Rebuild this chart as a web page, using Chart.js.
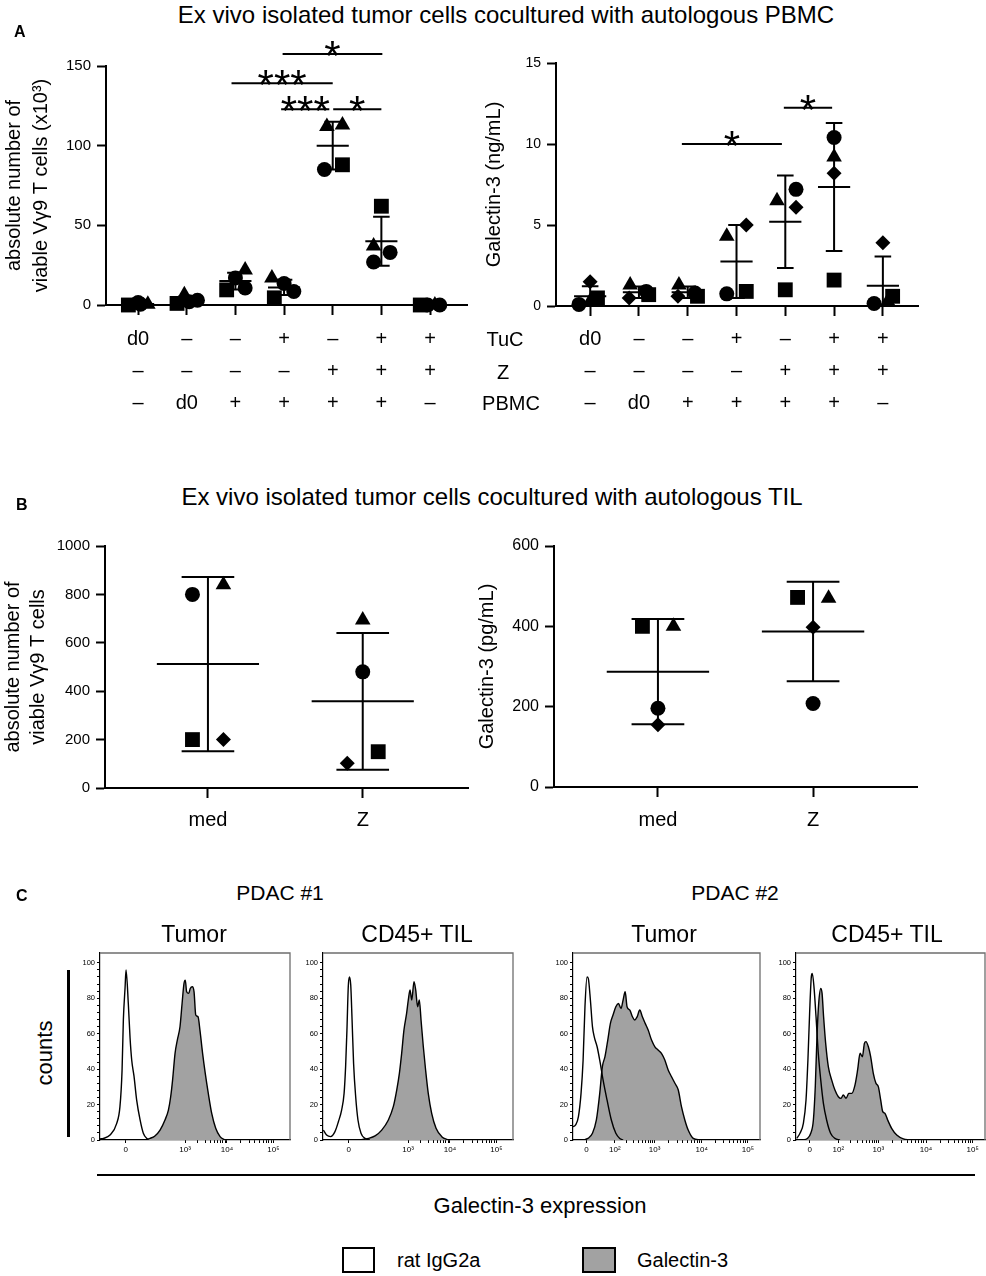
<!DOCTYPE html>
<html>
<head>
<meta charset="utf-8">
<script src="https://cdn.jsdelivr.net/npm/chart.js@4.4.1/dist/chart.umd.min.js"></script>
<style>
  body { margin: 0; background: #fff; }
  #fig { position: relative; width: 986px; height: 1276px; overflow: hidden; background: #fff;
         font-family: "Liberation Sans", Arial, Helvetica, sans-serif; color: #000; }
  .box { position: absolute; }
  .t { position: absolute; white-space: nowrap; }
</style>
</head>
<body>
<div id="fig"></div>
<script>
// ---- Panel A: condition rows under each group ----
const rowTuC  = ['d0', '–', '–', '+', '–', '+', '+'];
const rowZ    = ['–', '–', '–', '–', '+', '+', '+'];
const rowPBMC = ['–', 'd0', '+', '+', '+', '+', '–'];

// A left: absolute number of viable Vγ9 T cells (x10^3), one array per donor symbol
const tcCircle   = [1.5, 3, 10.7, 13.5, 85, 27, 0];
const tcSquare   = [0, 1, 9.5, 4.5, 88, 62, 0];
const tcTriangle = [0.5, 6.5, 22, 17, 112, 37, 0];
const tcFourth   = [0.5, 2, 17, 8.5, 113, 33, 0];
const tcMean     = [0.6, 3.1, 15, 11, 100, 40, 0];
const tcSD       = [0.6, 2.4, 5.2, 4.8, 15, 15.4, 0];

// A right: Galectin-3 (ng/mL)
const galCircle   = [0.1, 0.9, 0.8, 0.75, 7.2, 10.4, 0.15];
const galSquare   = [0.5, 0.7, 0.6, 0.9, 1.0, 1.6, 0.6];
const galTriangle = [0.3, 1.3, 1.3, 4.3, 6.5, 9.2, 0.3];
const galDiamond  = [1.5, 0.5, 0.6, 5.0, 6.1, 8.2, 3.9];
const galMean     = [0.6, 0.85, 0.85, 2.75, 5.2, 7.35, 1.25];
const galSD       = [0.62, 0.35, 0.35, 2.25, 2.85, 3.95, 1.8];

// ---- Panel B: TIL cocultures ----
const tilGroups = ['med', 'Z'];
const tilCircle   = [800, 480];
const tilTriangle = [840, 694];
const tilSquare   = [200, 150];
const tilDiamond  = [200, 102];
const tilMean     = [512, 358];
const tilSD       = [360, 283];

const tgCircle   = [196, 208];
const tgTriangle = [400, 470];
const tgSquare   = [400, 472];
const tgDiamond  = [155, 398];
const tgMean     = [287, 387];
const tgSD       = [131, 124];

// ---- Panel C: flow histograms (x = display channel 0..1000, y = % of max) ----
const pdac1TickPos = [135, 448, 668, 913];
const pdac1TickLab = ['0', '10³', '10⁴', '10⁵'];
const pdac2TickPos = [72, 224, 436, 688, 935];
const pdac2TickLab = ['0', '10²', '10³', '10⁴', '10⁵'];

const h1IsoX = [0, 18, 53, 88, 105, 116, 123, 132, 137, 149, 158, 167, 179, 193, 211, 228, 254];
const h1IsoY = [0.6, 0.9, 2.8, 9.4, 18.8, 39, 68, 86, 96, 77, 58, 45, 36, 22.5, 11.3, 3.8, 0];
const h1GalX = [237, 263, 289, 316, 342, 360, 372, 382, 395, 407, 421, 432, 442, 449, 456, 467, 475, 486, 495, 504, 516, 526, 540, 554, 570, 588, 609, 632, 658];
const h1GalY = [0, 0.9, 2.3, 5.6, 11.3, 16.9, 24.4, 33.8, 48.9, 56.4, 63.9, 77, 88.3, 90.2, 83.6, 82.7, 85.5, 86.5, 83.6, 70.5, 69.5, 62, 48.9, 37.6, 26.3, 15, 6.6, 1.9, 0];

const h2IsoX = [2, 19, 40, 63, 81, 98, 111, 119, 126, 133, 139, 146, 153, 161, 172, 184, 200, 221, 247];
const h2IsoY = [5.6, 2.8, 1.9, 4.7, 10.3, 16.9, 26.3, 41.4, 62, 86.5, 92, 87.4, 67.7, 43.2, 24.4, 11.3, 3.8, 0.9, 0];
const h2GalX = [195, 239, 274, 309, 344, 370, 388, 402, 414, 426, 440, 449, 458, 467, 479, 488, 498, 507, 516, 528, 540, 554, 572, 595, 625, 660];
const h2GalY = [0, 0.9, 2.3, 5.6, 11.3, 18.8, 28.2, 37.6, 48.9, 62, 71.4, 79, 84.6, 79, 89.3, 84.6, 75.2, 79, 67.7, 52.6, 39.5, 26.3, 15, 6.6, 1.9, 0];

const h3IsoX = [0, 14, 29, 43, 54, 64, 75, 82, 93, 104, 114, 129, 143, 161, 182, 205, 229, 250, 268];
const h3IsoY = [7.5, 8.5, 13.2, 26.3, 45, 75.2, 92, 91, 79, 64, 58, 52.6, 45, 33.8, 22.6, 11.3, 3.8, 0.9, 0];
const h3GalX = [54, 80, 104, 125, 143, 157, 171, 186, 200, 214, 229, 243, 257, 268, 279, 289, 304, 318, 330, 343, 357, 371, 386, 402, 420, 438, 455, 473, 491, 509, 527, 545, 563, 580, 598, 616, 643, 679];
const h3GalY = [0, 0.9, 3.8, 11.3, 26.3, 41.4, 47, 56.4, 65.8, 70.5, 75.2, 77, 74.2, 79, 83.6, 75.2, 73.3, 69.5, 67.7, 69.5, 73.3, 69.5, 65.8, 62, 56.4, 52.6, 50.8, 48.9, 45.1, 39.5, 35.7, 32, 28.2, 18.8, 11.3, 5.6, 0.9, 0];

const h4IsoX = [4, 21, 39, 53, 63, 72, 81, 86, 95, 106, 118, 131, 145, 162, 183, 206, 233];
const h4IsoY = [0.9, 3.8, 9.4, 22.6, 45, 71.4, 92, 94, 86.5, 69.5, 48.9, 33.8, 20.7, 11.3, 3.8, 0.9, 0];
const h4GalX = [35, 60, 78, 92, 102, 111, 120, 131, 138, 146, 157, 171, 189, 206, 224, 238, 250, 265, 279, 295, 312, 326, 339, 351, 362, 370, 383, 395, 409, 423, 436, 448, 459, 471, 485, 506, 533, 568, 603];
const h4GalY = [0, 0.9, 3.8, 11.3, 30, 58.3, 77, 85.5, 82.7, 69.5, 54.5, 41.4, 33.8, 28.2, 24.4, 23.5, 25.4, 23.5, 26.3, 26.3, 31, 39.5, 48.9, 47, 54.5, 55.5, 52.6, 47, 37.6, 32, 30, 22.6, 16, 15, 11.3, 6.6, 2.8, 0.6, 0];

// ---------------------------------------------------------------
Chart.defaults.font.family = '"Liberation Sans", Arial, Helvetica, sans-serif';
Chart.defaults.color = '#000';
Chart.defaults.animation = false;

const fig = document.getElementById('fig');
const FONT = '"Liberation Sans", Arial, Helvetica, sans-serif';
const RADIUS = { circle: 7.5, rect: 10.5, triangle: 9, rectRot: 7.5 };

function text(str, x, base, size, opt = {}) {
  const d = document.createElement('div');
  d.className = 't';
  d.textContent = str;
  d.style.fontSize = size + 'px';
  d.style.lineHeight = size + 'px';
  d.style.top = (base - 0.8465 * size) + 'px';
  d.style.left = x + 'px';
  if (opt.bold) d.style.fontWeight = 'bold';
  if (!opt.left) d.style.transform = 'translateX(-50%)';
  fig.appendChild(d);
  return d;
}

function rectDiv(l, t, w, h, css) {
  const d = document.createElement('div');
  d.className = 'box';
  Object.assign(d.style, { left: l + 'px', top: t + 'px', width: w + 'px', height: h + 'px', boxSizing: 'border-box' }, css);
  fig.appendChild(d);
  return d;
}

function addCanvas(r) {
  const wrap = rectDiv(r.l, r.t, r.w, r.h, {});
  const c = document.createElement('canvas');
  c.width = r.w; c.height = r.h;
  c.style.width = r.w + 'px'; c.style.height = r.h + 'px';
  wrap.appendChild(c);
  return c;
}

// significance bars drawn with the chart's own scales
const bracketPlugin = {
  id: 'brackets',
  afterDatasetsDraw(chart, args, opts) {
    const { ctx, scales: { x, y } } = chart;
    (opts.list || []).forEach(b => {
      const x1 = x.getPixelForValue(b.from), x2 = x.getPixelForValue(b.to), yy = y.getPixelForValue(b.y);
      ctx.save();
      ctx.strokeStyle = '#000'; ctx.lineWidth = 2;
      ctx.beginPath(); ctx.moveTo(x1, yy); ctx.lineTo(x2, yy); ctx.stroke();
      ctx.fillStyle = '#000';
      ctx.font = '42px ' + FONT;
      ctx.textAlign = 'center'; ctx.textBaseline = 'alphabetic';
      ctx.fillText(b.label, (x1 + x2) / 2, yy + 16);
      ctx.restore();
    });
  }
};

function dotChart(o) {
  const c = addCanvas(o.rect);
  const yW = o.area.l - o.rect.l, xH = o.rect.t + o.rect.h - o.area.b;
  const padTop = o.area.t - o.rect.t, padRight = o.rect.l + o.rect.w - o.area.r;
  const n = o.mean.length;

  // mean line, SD stem and caps for each group
  const bars = [];
  for (let i = 0; i < n; i++) {
    const m = o.mean[i], s = o.sd[i];
    bars.push({ x: i - 0.33, y: m }, { x: i + 0.33, y: m }, { x: i, y: null });
    bars.push({ x: i, y: m - s }, { x: i, y: m + s }, { x: i, y: null });
    bars.push({ x: i - 0.17, y: m + s }, { x: i + 0.17, y: m + s }, { x: i, y: null });
    bars.push({ x: i - 0.17, y: m - s }, { x: i + 0.17, y: m - s }, { x: i, y: null });
  }
  const datasets = [{
    type: 'line', data: bars, borderColor: '#000', borderWidth: 2,
    pointRadius: 0, spanGaps: false, fill: false, showLine: true
  }];
  o.series.forEach(s => {
    const styles = s.values.map((_, i) => Array.isArray(s.style) ? s.style[i] : s.style);
    datasets.push({
      data: s.values.map((v, i) => ({ x: i + s.jitter[i], y: v })),
      pointStyle: styles,
      pointRadius: styles.map(st => RADIUS[st]),
      pointBackgroundColor: '#000', pointBorderWidth: 0, backgroundColor: '#000',
      clip: false
    });
  });

  return new Chart(c, {
    type: 'scatter',
    data: { datasets },
    plugins: [bracketPlugin],
    options: {
      responsive: false, events: [],
      layout: { padding: { top: padTop, right: padRight, left: 0, bottom: 0 } },
      plugins: { legend: { display: false }, tooltip: { enabled: false }, brackets: { list: o.brackets || [] } },
      scales: {
        x: {
          type: 'linear', min: o.xMin, max: o.xMax,
          afterBuildTicks: s => { s.ticks = o.mean.map((_, i) => ({ value: i })); },
          afterFit: s => { s.height = xH; },
          ticks: {
            callback: (v, i) => o.xLabel(i), autoSkip: false, maxRotation: 0,
            font: { size: 20, lineHeight: o.xLH || 1.2 }, color: '#000', padding: o.xPad
          },
          grid: { drawOnChartArea: false, drawTicks: true, tickLength: 10, tickWidth: 2, tickColor: '#000' },
          border: { color: '#000', width: 2 }
        },
        y: {
          min: 0, max: o.yMax,
          afterFit: s => { s.width = yW; },
          ticks: { stepSize: o.yStep, font: { size: o.yTickSize || 15 }, color: '#000', padding: 6,
                   callback: v => String(v) },
          grid: { drawOnChartArea: false, drawTicks: true, tickLength: 9, tickWidth: 2, tickColor: '#000' },
          border: { color: '#000', width: 2 },
          title: {
            display: true, text: o.yTitle, color: '#000',
            font: { size: 20, lineHeight: o.yLH }, padding: { top: o.yTitlePad, bottom: 0 }
          }
        }
      }
    }
  });
}

// ---- Panel A ----
const rowsA = i => [rowTuC[i], rowZ[i], rowPBMC[i]];

dotChart({
  rect: { l: 0, t: 30, w: 480, h: 390 }, area: { l: 106, t: 66, r: 467, b: 305 },
  xMin: -0.66, xMax: 6.76, yMax: 150, yStep: 50,
  xLabel: rowsA, xLH: 1.6, xPad: 8,
  yTitle: ['absolute number of', 'viable Vγ9 T cells (x10³)'], yLH: 1.35, yTitlePad: 0.5,
  mean: tcMean, sd: tcSD,
  series: [
    { values: tcCircle, style: 'circle', jitter: [0.0, 0.22, 0.2, 0.0, -0.17, -0.16, -0.05] },
    { values: tcSquare, style: 'rect', jitter: [-0.2, -0.2, -0.18, -0.2, 0.2, 0.0, -0.2] },
    { values: tcTriangle, style: 'triangle', jitter: [0.2, -0.05, 0.2, -0.25, -0.12, -0.16, 0.1] },
    { values: tcFourth, style: ['circle', 'circle', 'circle', 'circle', 'triangle', 'circle', 'circle'],
      jitter: [0.05, 0.05, 0.0, 0.2, 0.2, 0.18, 0.2] }
  ],
  brackets: [
    { from: 2.97, to: 5.02, y: 157.5, label: '*' },
    { from: 1.92, to: 4.0, y: 139.1, label: '***' },
    { from: 2.94, to: 3.93, y: 122.8, label: '***' },
    { from: 4.01, to: 5.0, y: 122.8, label: '*' }
  ]
});

dotChart({
  rect: { l: 470, t: 30, w: 516, h: 390 }, area: { l: 556, t: 63, r: 918, b: 306 },
  xMin: -0.7, xMax: 6.72, yMax: 15, yStep: 5, yTickSize: 14,
  xLabel: rowsA, xLH: 1.6, xPad: 7,
  yTitle: 'Galectin-3 (ng/mL)', yLH: 1.2, yTitlePad: 12,
  mean: galMean, sd: galSD,
  series: [
    { values: galCircle, style: 'circle', jitter: [-0.23, 0.15, 0.15, -0.2, 0.22, 0.0, -0.18] },
    { values: galSquare, style: 'rect', jitter: [0.15, 0.2, 0.2, 0.2, 0.0, 0.0, 0.2] },
    { values: galTriangle, style: 'triangle', jitter: [0.0, -0.18, -0.18, -0.2, -0.17, 0.0, 0.1] },
    { values: galDiamond, style: 'rectRot', jitter: [0.0, -0.2, -0.2, 0.2, 0.22, 0.0, 0.0] }
  ],
  brackets: [
    { from: 1.88, to: 3.93, y: 10.0, label: '*' },
    { from: 3.97, to: 4.96, y: 12.24, label: '*' }
  ]
});

// ---- Panel B ----
dotChart({
  rect: { l: 0, t: 515, w: 480, h: 335 }, area: { l: 105, t: 546, r: 468, b: 788 },
  xMin: -0.665, xMax: 1.68, yMax: 1000, yStep: 200,
  xLabel: i => tilGroups[i], xPad: 10,
  yTitle: ['absolute number of', 'viable Vγ9 T cells'], yLH: 1.25, yTitlePad: 1,
  mean: tilMean, sd: tilSD,
  series: [
    { values: tilCircle, style: 'circle', jitter: [-0.1, 0.0] },
    { values: tilTriangle, style: 'triangle', jitter: [0.1, 0.0] },
    { values: tilSquare, style: 'rect', jitter: [-0.1, 0.1] },
    { values: tilDiamond, style: 'rectRot', jitter: [0.1, -0.1] }
  ]
});

dotChart({
  rect: { l: 470, t: 515, w: 516, h: 335 }, area: { l: 554, t: 546, r: 917, b: 787 },
  xMin: -0.67, xMax: 1.67, yMax: 600, yStep: 200, yTickSize: 16,
  xLabel: i => tilGroups[i], xPad: 11,
  yTitle: 'Galectin-3 (pg/mL)', yLH: 1.2, yTitlePad: 5,
  mean: tgMean, sd: tgSD,
  series: [
    { values: tgCircle, style: 'circle', jitter: [0.0, 0.0] },
    { values: tgTriangle, style: 'triangle', jitter: [0.1, 0.1] },
    { values: tgSquare, style: 'rect', jitter: [-0.1, -0.1] },
    { values: tgDiamond, style: 'rectRot', jitter: [0.0, 0.0] }
  ]
});

// ---- Panel C: histograms ----
const framePlugin = {
  id: 'frame',
  afterDraw(chart) {
    const { ctx, chartArea: a } = chart;
    ctx.save();
    ctx.strokeStyle = '#6e6e6e'; ctx.lineWidth = 1.3;
    ctx.beginPath();
    ctx.moveTo(a.left, a.top); ctx.lineTo(a.right, a.top); ctx.lineTo(a.right, a.bottom);
    ctx.stroke();
    ctx.restore();
  }
};

function histChart(o) {
  const r = { l: o.box.l - 30, t: 945, w: o.box.r - o.box.l + 32, h: 217 };
  const c = addCanvas(r);
  const yW = o.box.l - r.l, xH = r.t + r.h - 1140;
  const pts = (xs, ys) => xs.map((x, i) => ({ x, y: ys[i] }));

  // minor log ticks between labelled decades
  const minors = [];
  for (let k = 0; k < o.tickPos.length - 1; k++) {
    if (o.tickLab[k] === '0') continue;
    const p0 = o.tickPos[k], p1 = o.tickPos[k + 1];
    for (let m = 2; m <= 9; m++) minors.push(p0 + Math.log10(m) * (p1 - p0));
  }
  const xTicks = o.tickPos.concat(minors).sort((a, b) => a - b);
  const yTicks = [];
  for (let v = 0; v <= 100; v += 4) yTicks.push(v);

  return new Chart(c, {
    type: 'line',
    data: {
      datasets: [
        { data: pts(o.isoX, o.isoY), borderColor: '#000', borderWidth: 1.4, fill: false,
          pointRadius: 0, cubicInterpolationMode: 'monotone' },
        { data: pts(o.galX, o.galY), borderColor: '#000', borderWidth: 1.4, fill: 'origin',
          backgroundColor: '#a2a2a2', pointRadius: 0, cubicInterpolationMode: 'monotone' }
      ]
    },
    plugins: [framePlugin],
    options: {
      responsive: false, events: [],
      layout: { padding: { top: 953 - r.t, right: r.l + r.w - o.box.r, left: 0, bottom: 0 } },
      plugins: { legend: { display: false }, tooltip: { enabled: false } },
      scales: {
        x: {
          type: 'linear', min: 0, max: 1000,
          afterBuildTicks: s => { s.ticks = xTicks.map(v => ({ value: v })); },
          afterFit: s => { s.height = xH; },
          ticks: {
            autoSkip: false, maxRotation: 0, padding: 2, font: { size: 8 }, color: '#000',
            callback: v => { const k = o.tickPos.indexOf(v); return k >= 0 ? o.tickLab[k] : ''; }
          },
          grid: { drawOnChartArea: false, tickLength: 3, tickWidth: 1, tickColor: '#000' },
          border: { color: '#000', width: 1.2 }
        },
        y: {
          min: 0, max: 105.5,
          afterBuildTicks: s => { s.ticks = yTicks.map(v => ({ value: v })); },
          afterFit: s => { s.width = yW; },
          ticks: {
            autoSkip: false, padding: 2, font: { size: 7.5 }, color: '#000',
            callback: v => (v % 20 === 0 ? String(v) : '')
          },
          grid: { drawOnChartArea: false, tickLength: 3, tickWidth: 1, tickColor: '#000' },
          border: { color: '#000', width: 1.2 }
        }
      }
    }
  });
}

histChart({ box: { l: 100, r: 290 }, tickPos: pdac1TickPos, tickLab: pdac1TickLab,
  isoX: h1IsoX, isoY: h1IsoY, galX: h1GalX, galY: h1GalY });
histChart({ box: { l: 323, r: 513 }, tickPos: pdac1TickPos, tickLab: pdac1TickLab,
  isoX: h2IsoX, isoY: h2IsoY, galX: h2GalX, galY: h2GalY });
histChart({ box: { l: 573, r: 760 }, tickPos: pdac2TickPos, tickLab: pdac2TickLab,
  isoX: h3IsoX, isoY: h3IsoY, galX: h3GalX, galY: h3GalY });
histChart({ box: { l: 796, r: 985 }, tickPos: pdac2TickPos, tickLab: pdac2TickLab,
  isoX: h4IsoX, isoY: h4IsoY, galX: h4GalX, galY: h4GalY });

// ---- text and decorations ----
text('Ex vivo isolated tumor cells cocultured with autologous PBMC', 506, 23, 24);
text('A', 14, 38, 16, { bold: true, left: true });
text('TuC', 505, 346, 20);
text('Z', 503, 379, 20);
text('PBMC', 511, 410, 20);

text('Ex vivo isolated tumor cells cocultured with autologous TIL', 492, 505, 24);
text('B', 16, 511, 16, { bold: true, left: true });

text('C', 16, 902, 16, { bold: true, left: true });
text('PDAC #1', 280, 900, 21);
text('PDAC #2', 735, 900, 21);
text('Tumor', 194, 942, 23);
text('CD45+ TIL', 417, 942, 23);
text('Tumor', 664, 942, 23);
text('CD45+ TIL', 887, 942, 23);

const cnt = text('counts', 45, 0, 22);
cnt.style.top = (1053 - 11) + 'px';
cnt.style.transform = 'translateX(-50%) rotate(-90deg)';
rectDiv(67, 970, 3, 167, { background: '#000' });

rectDiv(97, 1174, 878, 2, { background: '#000' });
text('Galectin-3 expression', 540, 1214, 22);

rectDiv(342, 1247, 33, 26, { border: '2px solid #000', background: '#fff' });
text('rat IgG2a', 397, 1267, 20, { left: true });
rectDiv(582, 1247, 34, 26, { border: '2px solid #000', background: '#a2a2a2' });
text('Galectin-3', 637, 1267, 20, { left: true });
</script>
</body>
</html>
